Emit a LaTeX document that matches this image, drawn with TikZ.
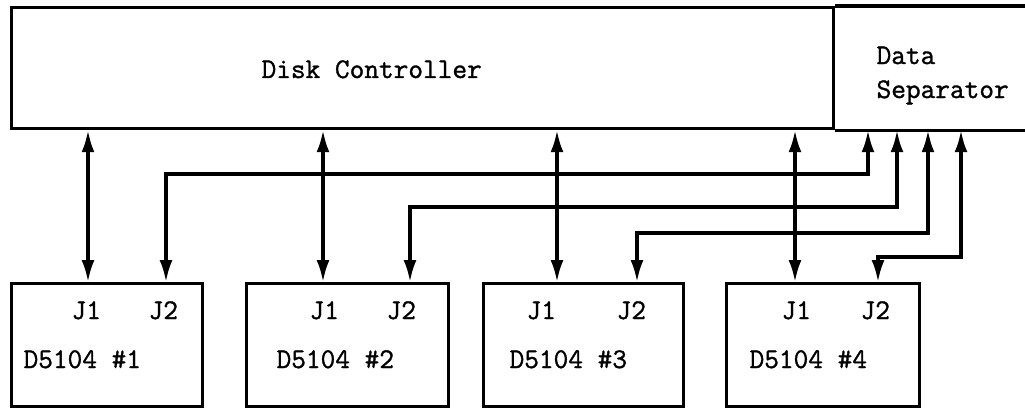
\documentclass[tikz,border=0pt]{standalone}
\usepackage{fontspec}
\newfontfamily\drawfont[FakeBold=1.2]{Latin Modern Mono}
\usetikzlibrary{arrows.meta}
\begin{document}
\begin{tikzpicture}[x=1pt,y=-1pt,
  line width=3.2pt,
  box/.style={draw, rectangle, inner sep=0pt, anchor=north west},
  txt/.style={font=\drawfont\fontsize{28.5}{34}\selectfont, inner sep=0pt, anchor=base west},
  biarrow/.style={{Latex[length=22pt,width=13pt]}-{Latex[length=22pt,width=13pt]}}]
\useasboundingbox (0,0) rectangle (1025,409);
% top blocks
\node[box, minimum width=822pt, minimum height=121pt] (dc) at (10,6) {};
\node[inner sep=0pt, minimum width=193pt, minimum height=121pt, anchor=north west] (ds) at (832,6) {};
\draw (dc.north east) -- (ds.north east);
\draw (dc.south east) -- (ds.south east);
\node[txt] (dctext) at (260,78) {Disk Controller};
\node[txt, align=left, anchor=north west] (dstext) at (875,45) {Data\\Separator};
% drive boxes
\node[box, minimum width=191pt, minimum height=123pt] (b1) at (10,282) {};
\node[box, minimum width=202pt, minimum height=123pt] (b2) at (245,282) {};
\node[box, minimum width=200pt, minimum height=123pt] (b3) at (482,282) {};
\node[box, minimum width=193pt, minimum height=123pt] (b4) at (725,282) {};
% labels
\node[txt] (j11) at (70,319) {J1};  \node[txt] (j21) at (147,319) {J2};
\node[txt] (d1) at (22,368) {D5104 \#1};
\node[txt] (j12) at (308,319) {J1}; \node[txt] (j22) at (385,319) {J2};
\node[txt] (d2) at (275,368) {D5104 \#2};
\node[txt] (j13) at (525,319) {J1}; \node[txt] (j23) at (615,319) {J2};
\node[txt] (d3) at (508,368) {D5104 \#3};
\node[txt] (j14) at (780,319) {J1}; \node[txt] (j24) at (859,319) {J2};
\node[txt] (d4) at (748,368) {D5104 \#4};
% J1 connections to Disk Controller
\draw[biarrow] (dc.south -| 88,0) -- (b1.north -| 88,0);
\draw[biarrow] (dc.south -| 323,0) -- (b2.north -| 323,0);
\draw[biarrow] (dc.south -| 557,0) -- (b3.north -| 557,0);
\draw[biarrow] (dc.south -| 795,0) -- (b4.north -| 795,0);
% J2 connections to Data Separator
\draw[biarrow] (ds.south -| 868,0) |- (166,174) -- (b1.north -| 166,0);
\draw[biarrow] (ds.south -| 897,0) |- (410,207) -- (b2.north -| 410,0);
\draw[biarrow] (ds.south -| 928,0) |- (637,233) -- (b3.north -| 637,0);
\draw[biarrow] (ds.south -| 961,0) |- (878,257) -- (b4.north -| 878,0);
\end{tikzpicture}
\end{document}
